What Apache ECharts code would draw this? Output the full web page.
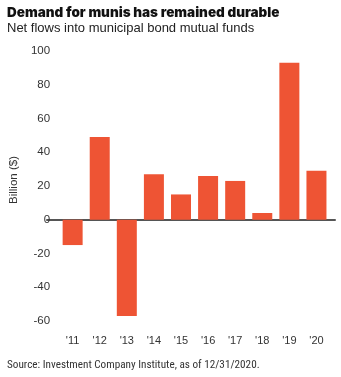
<!DOCTYPE html>
<html>
<head>
<meta charset="utf-8">
<script src="https://cdn.jsdelivr.net/npm/echarts@6/dist/echarts.min.js"></script>
<style>
  html, body { margin: 0; padding: 0; background: #fff; }
  #chart { width: 341px; height: 377px; }
</style>
</head>
<body>
<div id="chart"></div>
<script>
// Net flows into municipal bond mutual funds, billions of dollars
const years = ["'11", "'12", "'13", "'14", "'15", "'16", "'17", "'18", "'19", "'20"];
const netFlows = [-15, 49, -57, 27, 15, 26, 23, 4, 93, 29];
const yTicks = { min: -60, max: 100, interval: 20 };

const barColor = '#ee5434';
const textColor = '#333333';
const fontFamily = '"Liberation Sans", Arial, sans-serif';

const chart = echarts.init(document.getElementById('chart'), null, { renderer: 'canvas' });

chart.setOption({
  animation: false,
  textStyle: { fontFamily: fontFamily },
  title: [
    {
      text: 'Demand for munis has remained durable',
      left: 2, top: 1,
      textStyle: { fontFamily: 'Inter', fontWeight: 900, fontSize: 13.5, color: '#111' }
    },
    {
      text: 'Net flows into municipal bond mutual funds',
      left: 2, top: 17,
      textStyle: { fontFamily: fontFamily, fontWeight: 'normal', fontSize: 13, color: '#222' }
    },
    {
      text: 'Source: Investment Company Institute, as of 12/31/2020.',
      left: 2, top: 355,
      textStyle: { fontFamily: '"Roboto Condensed", "Liberation Sans Narrow", "Roboto", sans-serif', fontWeight: 'normal', fontSize: 11.2, color: '#333' }
    }
  ],
  grid: [
    // bars
    { left: 50, width: 280, top: 51, height: 270 },
    // baseline spanning slightly wider than the bars' band
    { left: 47, width: 288, top: 51, height: 270 }
  ],
  xAxis: [
    {
      type: 'category', gridIndex: 0, data: years,
      axisLine: { show: false }, axisTick: { show: false },
      axisLabel: { color: textColor, fontSize: 11, margin: 0 },
      position: 'bottom', offset: 14
    },
    {
      type: 'category', gridIndex: 1, data: years,
      axisLine: { show: true, onZero: true, lineStyle: { color: '#555', width: 2 } },
      axisTick: { show: false }, axisLabel: { show: false }
    }
  ],
  yAxis: [
    {
      type: 'value', gridIndex: 0,
      min: yTicks.min, max: yTicks.max, interval: yTicks.interval,
      splitLine: { show: false }, axisLine: { show: false }, axisTick: { show: false },
      axisLabel: { color: textColor, fontSize: 11.5, margin: 9 },
      name: 'Billion ($)', nameLocation: 'middle', nameGap: 33,
      nameTextStyle: { color: textColor, fontSize: 11.5, padding: [0, 0, 0, 12] }
    },
    {
      type: 'value', gridIndex: 1,
      min: yTicks.min, max: yTicks.max, interval: yTicks.interval,
      show: false
    }
  ],
  series: [
    {
      type: 'bar', xAxisIndex: 0, yAxisIndex: 0,
      data: netFlows, barWidth: 20,
      itemStyle: { color: barColor }
    }
  ]
});
</script>
</body>
</html>
